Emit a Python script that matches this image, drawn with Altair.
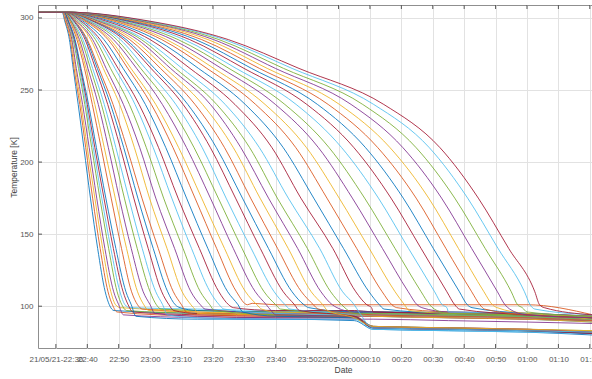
import altair as alt
import pandas as pd

BASE = pd.Timestamp("2021-05-21 22:30:00")

# temperature levels (K) at which each cooldown curve's crossing time was read
LEVELS = [304, 298, 285, 265, 240, 210, 175, 140, 110, 101]

# crossing times, minutes after 21/05/21 22:30
START = [2.0, 2.2, 2.4, 2.5, 2.6, 2.6, 2.7, 2.7, 2.8, 2.8, 2.9, 2.9, 3.0, 3.0, 3.0, 3.0, 3.1, 3.1, 3.2, 3.2,
         3.2, 3.3, 3.3, 3.3, 3.4, 3.4, 3.4, 3.5, 3.5, 3.5, 3.5, 3.6, 3.6, 3.6, 3.6, 3.7, 3.7, 3.7, 3.7, 3.8,
         3.8, 3.8, 3.8, 3.8, 3.8, 3.8, 3.8, 3.8, 3.8]
T298 = [2.8, 3.0, 3.2, 3.4, 3.7, 3.8, 3.9, 4.0, 4.4, 4.6, 4.8, 4.9, 5.2, 5.6, 5.8, 6.0, 6.3, 6.5, 7.1, 7.6,
        7.9, 8.5, 9.1, 9.4, 9.8, 10.4, 10.7, 11.5, 11.8, 12.1, 12.9, 13.3, 14.1, 14.6, 15.7, 16.9, 18.2, 18.9,
        19.8, 20.7, 21.7, 22.6, 23.5, 24.5, 25.4, 26.5, 27.4, 28.5, 29.3]
T285 = [4.3, 4.6, 4.9, 5.1, 5.5, 5.7, 5.9, 6.1, 6.7, 7.1, 7.5, 8.1, 8.6, 9.3, 9.7, 10.0, 11.1, 11.7, 12.6, 13.4,
        14.1, 15.3, 16.6, 17.3, 18.3, 19.4, 20.5, 21.6, 22.4, 23.5, 24.7, 26.0, 27.2, 28.3, 30.0, 31.8, 33.7,
        35.2, 37.1, 38.9, 40.8, 42.6, 44.5, 46.4, 48.4, 50.2, 51.9, 53.6, 54.9]
T265 = [5.5, 5.8, 6.2, 6.5, 7.2, 7.5, 7.8, 8.0, 9.1, 9.6, 10.2, 11.0, 11.7, 12.6, 13.2, 13.7, 15.1, 16.0, 17.4,
        18.8, 19.8, 21.4, 22.9, 23.9, 25.7, 27.0, 28.5, 30.3, 31.4, 33.3, 34.9, 36.5, 38.1, 40.2, 42.7, 45.4,
        48.1, 50.3, 52.7, 55.1, 57.4, 59.9, 62.3, 64.8, 67.3, 69.9, 72.5, 75.2, 77.4]
T240 = [7.1, 7.6, 8.0, 8.5, 9.2, 9.6, 10.0, 10.4, 11.6, 12.4, 13.5, 14.5, 15.4, 16.5, 17.4, 18.2, 20.3, 21.5,
        23.4, 25.2, 26.5, 28.5, 30.4, 31.8, 33.9, 36.0, 38.2, 40.5, 42.0, 44.3, 46.7, 49.2, 51.2, 53.9, 57.0,
        60.3, 63.6, 66.6, 69.9, 72.9, 76.5, 79.9, 83.3, 86.7, 90.3, 94.0, 97.7, 101.2, 104.4]
T210 = [8.9, 9.5, 10.0, 10.6, 11.4, 11.9, 12.4, 12.9, 14.4, 15.4, 16.7, 18.0, 19.1, 20.5, 21.6, 22.6, 25.0, 26.7,
        28.8, 31.0, 32.7, 35.0, 37.3, 39.1, 41.6, 44.0, 46.6, 49.2, 51.1, 53.7, 56.5, 58.9, 61.7, 64.8, 68.8,
        72.4, 76.4, 79.8, 83.6, 87.0, 91.0, 94.9, 98.6, 102.5, 106.4, 110.5, 114.7, 118.9, 122.3]
T175 = [11.0, 11.7, 12.4, 13.0, 14.0, 14.6, 15.3, 15.9, 17.6, 18.9, 20.2, 21.8, 23.2, 24.8, 26.1, 27.4, 29.8,
        31.8, 34.3, 36.9, 38.9, 41.6, 44.3, 46.4, 49.2, 51.7, 54.2, 57.2, 59.4, 62.0, 65.0, 67.7, 70.5, 74.0,
        78.0, 82.1, 86.3, 90.2, 94.4, 98.3, 102.7, 106.7, 110.6, 114.7, 118.7, 122.8, 127.0, 131.1, 134.5]
T140 = [13.3, 14.1, 14.9, 15.6, 16.8, 17.5, 18.3, 19.1, 20.9, 22.5, 24.0, 25.9, 27.5, 29.4, 31.0, 32.6, 35.4,
        37.8, 40.5, 43.2, 45.7, 48.4, 51.2, 53.7, 56.5, 59.3, 62.2, 65.1, 67.7, 70.6, 74.0, 77.0, 80.1, 84.0,
        88.2, 91.6, 95.8, 99.8, 104.0, 108.0, 112.3, 116.3, 120.2, 124.2, 128.2, 132.4, 136.7, 140.8, 144.2]
T110 = [15.7, 16.6, 17.5, 18.4, 19.5, 20.4, 21.4, 22.3, 24.1, 26.0, 27.8, 30.0, 31.8, 33.7, 35.6, 37.4, 40.2,
        43.0, 46.0, 49.1, 51.9, 54.7, 57.5, 60.4, 63.5, 66.3, 69.5, 72.4, 75.2, 78.2, 81.3, 84.4, 87.5, 91.3,
        95.5, 99.7, 103.9, 108.0, 112.2, 116.3, 120.6, 124.5, 128.5, 132.4, 136.3, 140.6, 145.0, 149.2, 152.5]
T_END = [17, 18, 19, 20, 21, 22, 23, 24, 26, 28, 30, 32, 34, 36, 38, 40, 43, 46, 49, 52, 55, 58, 61, 64, 67,
         70, 73, 76, 79, 82, 85, 88, 91, 95, 99, 103, 107, 111, 115, 119, 123, 127, 131, 135, 139, 143, 147,
         151, 154]

# plateau after the cooldown: bend point, then values at fixed times
T_BEND = [18.5, 19.5, 20.5, 21.5, 22.5, 23.5, 24.5, 25.5, 27.5, 29.5, 31.5, 33.5, 35.5, 37.5, 39.5, 41.5,
          44.5, 47.5, 50.5, 53.5, 56.5, 59.5, 62.5, 65.5, 68.5, 71.5, 74.5, 77.5, 80.5, 83.5, 86.5, 89.5,
          92.5, 96.5, 100.5, 104.5, 108.5, 112.5, 116.5, 120.5, 124.5, 128.5, 132.5, 136.5, 140.5, 144.5,
          148.5, 152.5, 155.5]
P_BEND = [97, 96, 99, 94, 97, 99, 96, 93, 98, 97, 95, 98, 94, 97, 99, 96, 97, 98, 97, 98, 99, 96, 102, 98, 97,
          98, 98, 97, 99, 98, 97, 99, 98, 96, 99, 98, 99, 97, 99, 98, 99, 98, 99, 98, 99, 98, 99, 98, 99]
N = None
PLATEAU_TIMES = [45, 70, 95, 101, 125, 150, 171]
P45 = [95, 93, 97, 92, 95, 98, 94, 91, 96, 96, 93, 97, 92, 95, 97, 94, 95] + [N] * 32
P70 = [94, 92, 96, 91, 94, 97, 93, 91, 94, 95, 92, 96, 91, 94, 96, 93, 94, 95, 94, 95, 97, 93, 101, 96,
       94] + [N] * 24
P95 = [94, 92, 95, 91, 93, 97, 93, 90, 94, 95, 92, 96, 91, 94, 96, 92, 94, 95, 93, 94, 97, 92, 101, 95, 93,
       95, 95, 93, 96, 95, 92, 96, 95] + [N] * 16
P101 = [93, 85, 95, 91, 86, 96, 93, 84, 94, 95, 85, 96, 84, 94, 95, 86, 93, 95, 86, 94, 96, 85, 101, 95, 86,
        95, 95, 85, 96, 94, 86, 96, 95, 85, 96] + [N] * 14
P125 = [92, 84, 94, 90, 85, 96, 92, 83, 93, 94, 84, 95, 83, 93, 94, 85, 92, 94, 85, 93, 95, 84, 101, 94, 85,
        94, 94, 84, 95, 93, 85, 95, 94, 84, 95, 95, 96, 95, 96, 95, 96] + [N] * 8
P150 = [91, 83, 93, 89, 84, 95, 91, 82, 92, 93, 83, 94, 82, 92, 93, 84, 91, 93, 83, 92, 94, 83, 101, 93, 84,
        93, 93, 83, 94, 92, 84, 94, 93, 83, 94, 94, 95, 94, 95, 94, 95, 94, 95, 94, 95, 94, 96] + [N] * 2
P171 = [89, 82, 91, 88, 83, 93, 90, 80, 90, 91, 81, 92, 81, 90, 91, 82, 89, 91, 82, 90, 92, 81, 94, 91, 82,
        91, 91, 81, 92, 90, 83, 92, 91, 82, 92, 91, 93, 91, 93, 92, 92, 92, 93, 92, 93, 92, 93, 94, 94]

FLAT_FROM = -5.7
X_TICK_MINUTES = [0, 10, 20, 30, 40, 50, 60, 70, 80, 90, 100, 110, 120, 130, 140, 150, 160, 170]
Y_TICKS = [100, 150, 200, 250, 300]
X_DOMAIN_MIN = [-5.7, 170.7]
Y_DOMAIN = [71, 309]
MATLAB_COLORS = ["#0072BD", "#D95319", "#EDB120", "#7E2F8E", "#77AC30", "#4DBEEE", "#A2142F"]

crossings = [START, T298, T285, T265, T240, T210, T175, T140, T110, T_END]
plateaus = [P45, P70, P95, P101, P125, P150, P171]

rows = []
for i in range(len(START)):
    pts = [(FLAT_FROM, LEVELS[0])]
    for lev, col in zip(LEVELS, crossings):
        pts.append((col[i], lev))
    pts.append((T_BEND[i], P_BEND[i]))
    for t, col in zip(PLATEAU_TIMES, plateaus):
        if col[i] is not None:
            pts.append((t, col[i]))
    for k, (m, temp) in enumerate(pts):
        rows.append({"curve": i, "order": k, "time": BASE + pd.Timedelta(minutes=m),
                     "temp": temp, "c": i % 7})
df = pd.DataFrame(rows)


def dt(ts):
    return alt.DateTime(year=ts.year, month=ts.month, date=ts.day, hours=ts.hour,
                        minutes=ts.minute, seconds=ts.second)


x_domain = [dt(BASE + pd.Timedelta(minutes=m)) for m in X_DOMAIN_MIN]
tick_times = [BASE + pd.Timedelta(minutes=m) for m in X_TICK_MINUTES]
x_scale = alt.Scale(domain=x_domain, nice=False)
y_scale = alt.Scale(domain=Y_DOMAIN, zero=False, nice=False)

label_expr = ("hours(datum.value)==22 && minutes(datum.value)==30 ? '21/05/21-22:30' : "
              "(hours(datum.value)==0 && minutes(datum.value)==0 ? '22/05-00:00' : "
              "timeFormat(datum.value, '%H:%M'))")

W, H = 554, 343

x_axis = alt.Axis(values=[dt(t) for t in tick_times], labelExpr=label_expr, title="Date",
                  grid=True, labelOverlap=False, labelFlush=False, labelBound=False,
                  labelPadding=7, titleX=305, titleY=17, titleBaseline="top", titleAlign="center")
y_axis = alt.Axis(values=Y_TICKS, title="Temperature [K]", grid=True, labelPadding=5,
                  titleX=-25, titleY=162, titleAngle=-90, titleBaseline="middle", titleAlign="center")

lines = alt.Chart(df).mark_line(strokeWidth=1, opacity=0.85, clip=True, interpolate="monotone").encode(
    x=alt.X("time:T", scale=x_scale, axis=x_axis),
    y=alt.Y("temp:Q", scale=y_scale, axis=y_axis),
    detail="curve:N",
    order="order:Q",
    color=alt.Color("c:N", scale=alt.Scale(domain=list(range(7)), range=MATLAB_COLORS), legend=None),
)

xt = pd.DataFrame({"time": tick_times})
yt = pd.DataFrame({"temp": Y_TICKS})

bottom_ticks = alt.Chart(xt).mark_rule(color="#555", strokeWidth=1).encode(
    x=alt.X("time:T", scale=x_scale, axis=x_axis), y=alt.value(H - 4), y2=alt.value(H))
top_ticks = alt.Chart(xt).mark_rule(color="#555", strokeWidth=1).encode(
    x=alt.X("time:T", scale=x_scale, axis=x_axis), y=alt.value(0), y2=alt.value(4))
left_ticks = alt.Chart(yt).mark_rule(color="#555", strokeWidth=1).encode(
    y=alt.Y("temp:Q", scale=y_scale, axis=y_axis), x=alt.value(0), x2=alt.value(4))

chart = alt.layer(lines, bottom_ticks, top_ticks, left_ticks).properties(
    width=W, height=H,
    autosize=alt.AutoSizeParams(type="none"),
    padding={"left": 38, "top": 5, "right": 0, "bottom": 31},
).configure_axis(
    gridColor="#e2e2e2", gridWidth=1, domain=False, ticks=False,
    labelColor="#555555", titleColor="#444444", labelFont="Liberation Sans",
    titleFont="Liberation Sans", labelFontSize=8, titleFontSize=8.5, titleFontWeight="normal",
).configure_view(stroke="#8f8f8f", strokeWidth=1)

chart.save("out.html", embed_options={"renderer": "svg", "actions": False})
